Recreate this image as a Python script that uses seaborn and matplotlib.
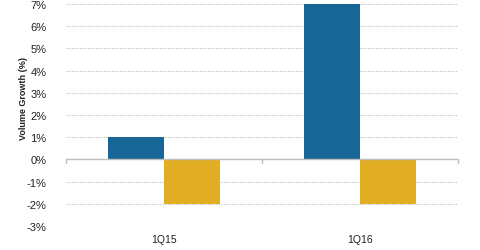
import matplotlib
matplotlib.use("Agg")
import matplotlib.pyplot as plt
import matplotlib.transforms as mtrans
import seaborn as sns
import pandas as pd

categories = ["1Q15", "1Q16"]
series_names = ["Series A", "Series B"]
series_a = [1, 7]
series_b = [-2, -2]
yticks = [-3, -2, -1, 0, 1, 2, 3, 4, 5, 6, 7]

df = pd.DataFrame({
    "cat": categories * 2,
    "series": [series_names[0]] * 2 + [series_names[1]] * 2,
    "value": series_a + series_b,
})

sns.set_style("white")
plt.rcParams["font.family"] = ["Liberation Sans", "DejaVu Sans"]

fig = plt.figure(figsize=(4.8, 2.51), dpi=100)
ax = fig.add_axes([0.1375, 0.0956, 0.8165, 0.8844])

sns.barplot(data=df, x="cat", y="value", hue="series", order=categories,
            hue_order=series_names, palette=["#176696", "#e1ae23"],
            width=0.572, dodge=True, ax=ax, legend=False, saturation=1,
            edgecolor="none", linewidth=0)

ax.set_ylim(-3, 7)
ax.set_xlim(-0.5, 1.5)
ax.set_yticks(yticks)
ax.set_yticklabels([f"{t}%" for t in yticks], fontsize=8, color="#222222")
ax.tick_params(axis="y", length=0, pad=14)
ax.tick_params(axis="x", length=0, pad=6, labelsize=7.5, labelcolor="#222222")
ax.set_xlabel("")
ax.set_ylabel("Volume Growth (%)", fontsize=6.5, color="#222222", fontweight="bold")
ax.yaxis.set_label_coords(-0.097, 0.58)

for t in yticks:
    if t != 0:
        ax.axhline(t, color="#c4c4c4", linestyle=(0, (1.2, 1.2)), linewidth=0.8, zorder=0)
ax.axhline(0, color="#bdbdbd", linewidth=1.0, zorder=3)

trans = mtrans.blended_transform_factory(ax.transData, ax.transData)
for xb in [-0.5, 0.5, 1.5]:
    ax.plot([xb, xb], [0, -0.15], color="#bdbdbd", linewidth=1.0, transform=trans,
            clip_on=False, zorder=3)

for s in ax.spines.values():
    s.set_visible(False)

fig.savefig("out.png", dpi=100)
